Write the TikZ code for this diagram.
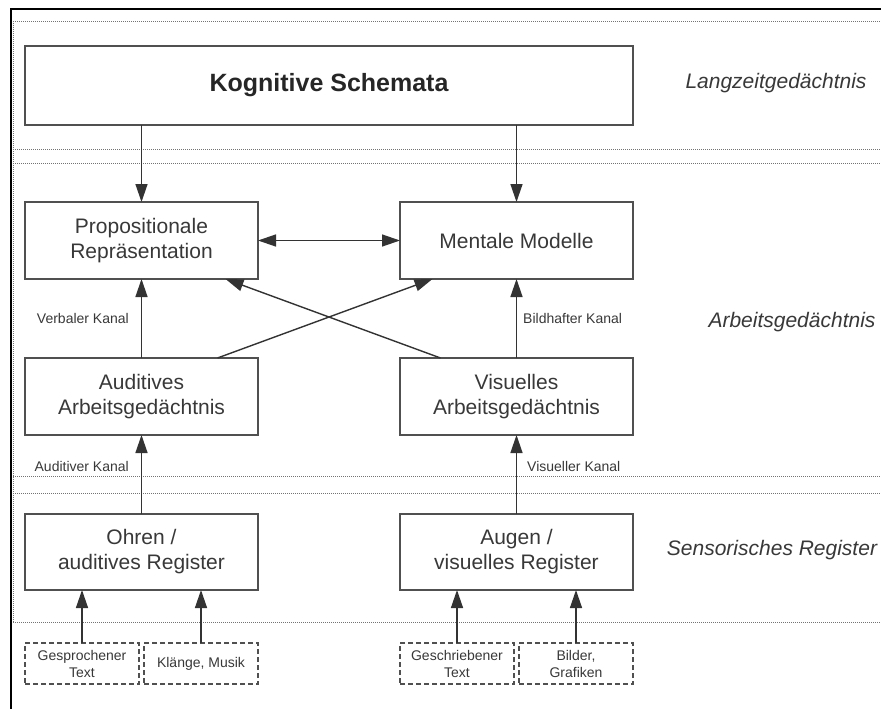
\documentclass[tikz,border=0pt]{standalone}
\usepackage{fontspec}
\setmainfont{Liberation Sans}
\usepackage{tikz}
\usetikzlibrary{arrows.meta,positioning,calc}
\definecolor{boxline}{HTML}{505050}
\definecolor{txt}{HTML}{383838}

\begin{document}
\begin{tikzpicture}[x=1pt,y=-1pt,-{Triangle[length=18pt,width=12pt]},
      line width=1.4pt, draw=black!80,
      dbl/.style={{Triangle[length=18pt,width=12pt]}-{Triangle[length=18pt,width=12pt]}},
      box/.style={draw=boxline, line width=1.6pt, minimum width=233pt, minimum height=77pt,
        align=center, text=txt, font=\fontsize{21}{25}\selectfont, outer sep=0pt, inner sep=0pt},
      srcbox/.style={draw=boxline, dash pattern=on 5pt off 3pt, line width=1.4pt, minimum width=114pt,
        minimum height=41pt, align=center, text=txt, font=\fontsize{14}{17}\selectfont, outer sep=0pt, inner sep=0pt},
      lbl/.style={text=txt, font=\fontsize{14}{16}\selectfont, inner sep=0pt},
      layerlbl/.style={text=txt, font=\fontsize{21}{25}\itshape\selectfont},
      layer/.style={-, draw=black!55, line width=0.8pt, dash pattern=on 1pt off 1pt}]
     \useasboundingbox (0,0) rectangle (881,709);
     \draw[-, line width=1.6pt, draw=black] (11,709) -- (11,9) -- (881,9);
     \foreach \y in {21,149,163,476,493,622}
       \draw[layer] (13,\y) -- (881,\y);
     \draw[layer] (13,21) -- (13,622);

     \node[box, minimum width=608pt, minimum height=79pt, text=black!85,
       font=\fontsize{25}{30}\bfseries\selectfont] (kog) at (329,85.5) {Kognitive Schemata};
     \node[box, below right=77pt and 0pt of kog.south west] (prop) {Propositionale\\Repräsentation};
     \node[box, right=142pt of prop] (ment) {Mentale Modelle};
     \node[box, below=79pt of prop] (aud) {Auditives\\Arbeitsgedächtnis};
     \node[box, below=79pt of ment] (vis) {Visuelles\\Arbeitsgedächtnis};
     \node[box, minimum height=76pt, below=79pt of aud] (ohr) {Ohren /\\auditives Register};
     \node[box, minimum height=76pt, below=79pt of vis] (aug) {Augen /\\visuelles Register};
     \node[srcbox, below right=53pt and 0pt of ohr.south west] (gesp) {Gesprochener\\Text};
     \node[srcbox, right=5pt of gesp] (klang) {Klänge, Musik};
     \node[srcbox, below right=53pt and 0pt of aug.south west] (gesch) {Geschriebener\\Text};
     \node[srcbox, right=5pt of gesch] (bild) {Bilder,\\Grafiken};

     \node[layerlbl] (ltm) at (776,83) {Langzeitgedächtnis};
     \node[layerlbl] (wm) at (792,322) {Arbeitsgedächtnis};
     \node[layerlbl] (sr) at (772,550) {Sensorisches Register};

     \draw (prop.north |- kog.south) -- (prop.north);
     \draw (ment.north |- kog.south) -- (ment.north);
     \draw[dbl] (prop) -- (ment);
     \draw (aud) -- node[lbl, left=12pt] {Verbaler Kanal} (prop);
     \draw (vis) -- node[lbl, right=6pt] {Bildhafter Kanal} (ment);
     \draw ([xshift=76pt]aud.north) -- ([xshift=-84pt]ment.south);
     \draw ([xshift=-76pt]vis.north) -- ([xshift=84pt]prop.south);
     \draw (ohr) -- node[lbl, left=12pt, pos=0.6] {Auditiver Kanal} (aud);
     \draw (aug) -- node[lbl, right=10pt, pos=0.6] {Visueller Kanal} (vis);
     \draw (gesp) -- (gesp |- ohr.south);
     \draw (klang) -- (klang |- ohr.south);
     \draw (gesch) -- (gesch |- aug.south);
     \draw (bild) -- (bild |- aug.south);
    \end{tikzpicture}
\end{document}
